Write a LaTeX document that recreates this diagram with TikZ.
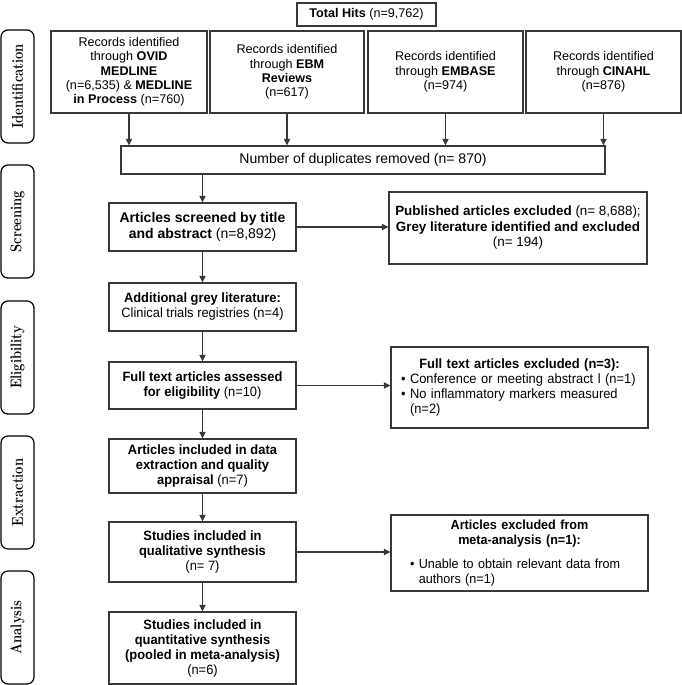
\documentclass[tikz,border=0pt]{standalone}
\usepackage{fontspec}
\usepackage{graphicx}
\setsansfont{Liberation Sans}
\newfontfamily\condsans{Liberation Sans}[FakeStretch=0.955]
\usetikzlibrary{arrows.meta}
\definecolor{lc}{gray}{0.22}
\tikzset{
  base/.style={draw=lc, line width=1.1pt, inner sep=0pt, align=center, text=black},
  srcbox/.style={base, font=\sffamily\fontsize{12.6}{14.3}\selectfont, minimum height=82pt},
  mainbox/.style={base, font=\condsans\fontsize{13.5}{15}\selectfont, minimum width=187pt},
  exbox/.style={base, font=\condsans\fontsize{13.5}{15.3}\selectfont, minimum width=257pt},
  phase/.style={draw=black, line width=1.2pt, rounded corners=7pt, inner sep=0pt,
    minimum width=33pt, minimum height=113pt, font=\bfseries\fontsize{13}{14}\selectfont},
  arr/.style={draw=lc, line width=1.1pt, -{Triangle[length=6.5pt,width=6pt]}}
}
\newcommand{\phasetext}[1]{\rotatebox{90}{\scalebox{1}[1.2]{#1}}}
\begin{document}
\begin{tikzpicture}[x=1pt,y=-1pt]
\useasboundingbox (0,0) rectangle (682,685);
% phases
\node[phase] (pid) at (17.5,86.5) {\phasetext{Identification}};
\node[phase] (pscr) at (17.5,221.5) {\phasetext{Screening}};
\node[phase] (pel) at (17.5,357.5) {\phasetext{Eligibility}};
\node[phase] (pex) at (17.5,492.5) {\phasetext{Extraction}};
\node[phase] (pan) at (17.5,627.5) {\phasetext{Analysis}};
% top
\node[base, font=\sffamily\fontsize{12.6}{14}\selectfont, minimum width=139pt, minimum height=23pt] (total) at (366.5,14.5) {\textbf{Total Hits} (n=9,762)};
\node[srcbox, minimum width=156pt] (s1) at (129,72) {Records identified\\through \textbf{OVID}\\\textbf{MEDLINE}\\(n=6,535) \& \textbf{MEDLINE}\\\textbf{in Process} (n=760)};
\node[srcbox, minimum width=154pt] (s2) at (287,72) {Records identified\\through \textbf{EBM}\\\textbf{Reviews}\\(n=617)};
\node[srcbox, minimum width=155pt] (s3) at (445.5,72) {Records identified\\through \textbf{EMBASE}\\(n=974)};
\node[srcbox, minimum width=155pt] (s4) at (603.5,72) {Records identified\\through \textbf{CINAHL}\\(n=876)};
\node[base, font=\sffamily\fontsize{14}{15}\selectfont, minimum width=484pt, minimum height=28pt] (dup) at (363,160) {Number of duplicates removed (n= 870)};
% main column
\node[mainbox, font=\sffamily\fontsize{14}{15.5}\selectfont, minimum height=48pt] (scr) at (202.5,227) {\textbf{Articles screened by title}\\\textbf{and abstract} (n=8,892)};
\node[mainbox, minimum height=48pt] (grey) at (202.5,307) {\textbf{Additional grey literature:}\\Clinical trials registries (n=4)};
\node[mainbox, minimum height=47pt] (full) at (202.5,385.5) {\textbf{Full text articles assessed}\\\textbf{for eligibility} (n=10)};
\node[mainbox, minimum height=54pt] (incl) at (202.5,466) {\textbf{Articles included in data}\\\textbf{extraction and quality}\\\textbf{appraisal} (n=7)};
\node[mainbox, minimum height=60pt] (qual) at (202.5,552) {\textbf{Studies included in}\\\textbf{qualitative synthesis}\\(n= 7)};
\node[mainbox, minimum height=72pt] (quant) at (202.5,648) {\textbf{Studies included in}\\\textbf{quantitative synthesis}\\\textbf{(pooled in meta-analysis)}\\(n=6)};
% exclusion boxes
\node[exbox, font=\sffamily\fontsize{13.4}{15.5}\selectfont, minimum width=258pt, minimum height=72pt] (ex1) at (518,228) {\textbf{Published articles excluded} (n= 8,688);\\\textbf{Grey literature identified and excluded}\\(n= 194)};
\node[exbox, minimum height=81pt, text width=237pt, align=left] (ex2) at (519.5,387.5) {\makebox[237pt][c]{\bfseries Full text articles excluded (n=3):}\\\textbullet\ Conference or meeting abstract l (n=1)\\\textbullet\ No inflammatory markers measured\\\phantom{\textbullet\ }(n=2)};
\node[exbox, font=\condsans\fontsize{13.2}{15}\selectfont, minimum height=76pt, text width=237pt, align=left] (ex3) at (519.5,553) {\makebox[237pt][c]{\bfseries Articles excluded from}\\\makebox[237pt][c]{\bfseries meta-analysis (n=1):}\\[9pt]\hspace*{9pt}\textbullet\ Unable to obtain relevant data from\\\hspace*{9pt}\phantom{\textbullet\ }authors (n=1)};
% connectors
\foreach \s in {s1,s2,s3,s4} \draw[arr] (\s.south) -- (\s.south |- dup.north);
\draw[arr] (dup.south -| scr.north) -- (scr.north);
\draw[arr] (scr) -- (grey);
\draw[arr] (grey) -- (full);
\draw[arr] (full) -- (incl);
\draw[arr] (incl) -- (qual);
\draw[arr] (qual) -- (quant);
\draw[arr] (scr.east) -- (scr.east -| ex1.west);
\draw[arr] (full.east) -- (full.east -| ex2.west);
\draw[arr] (qual.east) -- (qual.east -| ex3.west);
\end{tikzpicture}
\end{document}
